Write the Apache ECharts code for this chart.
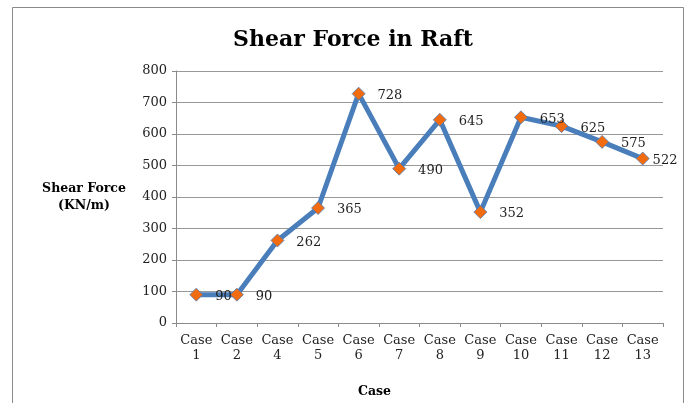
<!DOCTYPE html>
<html>
<head>
<meta charset="utf-8">
<script src="https://cdn.jsdelivr.net/npm/echarts@6/dist/echarts.min.js"></script>
<style>
html,body{margin:0;padding:0;background:#fff;}
#chart{width:691px;height:403px;}
</style>
</head>
<body>
<div id="chart"></div>
<script>
const categories = ['Case\n1','Case\n2','Case\n4','Case\n5','Case\n6','Case\n7','Case\n8','Case\n9','Case\n10','Case\n11','Case\n12','Case\n13'];
const shearForce = [90, 90, 262, 365, 728, 490, 645, 352, 653, 625, 575, 522];
const yTicks = {min: 0, max: 800, interval: 100};

const chart = echarts.init(document.getElementById('chart'));
const serif = 'DejaVu Serif';
const seriesData = shearForce.map((v, i) => i === shearForce.length - 1
  ? {value: v, label: {distance: 3}}
  : v);
chart.setOption({
  animation: false,
  backgroundColor: '#fff',
  title: {
    text: 'Shear Force in Raft',
    left: 348, top: 24, textAlign: 'center',
    textStyle: {fontFamily: serif, fontWeight: 'bold', fontSize: 22, color: '#000'}
  },
  graphic: [{
    type: 'rect', shape: {x: 12.5, y: 7.5, width: 671, height: 420},
    style: {fill: 'none', stroke: '#8a8a8a', lineWidth: 1}, silent: true, z: -1
  }],
  grid: {left: 176, right: 28, top: 71, bottom: 78},
  xAxis: {
    type: 'category', data: categories, boundaryGap: true,
    name: 'Case', nameLocation: 'middle', nameGap: 62,
    nameTextStyle: {fontFamily: serif, fontWeight: 'bold', fontSize: 12.5, color: '#000', padding: [0, 90, 0, 0]},
    axisLine: {lineStyle: {color: '#8a8a8a', width: 1}},
    axisTick: {show: true, length: 4, lineStyle: {color: '#8a8a8a'}},
    axisLabel: {fontFamily: serif, fontSize: 13, color: '#222', margin: 10, lineHeight: 15, interval: 0}
  },
  yAxis: {
    type: 'value', min: yTicks.min, max: yTicks.max, interval: yTicks.interval,
    name: 'Shear Force\n(KN/m)', nameLocation: 'middle', nameRotate: 0, nameGap: 92,
    nameTextStyle: {fontFamily: serif, fontWeight: 'bold', fontSize: 12.5, color: '#000', align: 'center', verticalAlign: 'middle', lineHeight: 17},
    axisLine: {show: true, lineStyle: {color: '#8a8a8a', width: 1}},
    axisTick: {show: true, length: 4, lineStyle: {color: '#8a8a8a'}},
    axisLabel: {fontFamily: serif, fontSize: 13, color: '#222', margin: 9},
    splitLine: {lineStyle: {color: '#999', width: 1.2}}
  },
  series: [{
    type: 'line', data: seriesData,
    lineStyle: {color: '#4a7ebb', width: 5},
    symbol: 'diamond', symbolSize: 13,
    itemStyle: {color: '#f26b0f', borderColor: '#4a7ebb', borderWidth: 0.8},
    label: {show: true, position: 'right', distance: 12, fontFamily: serif, fontSize: 13, color: '#222', offset: [0, 2]},
    z: 3
  }]
});
</script>
</body>
</html>
